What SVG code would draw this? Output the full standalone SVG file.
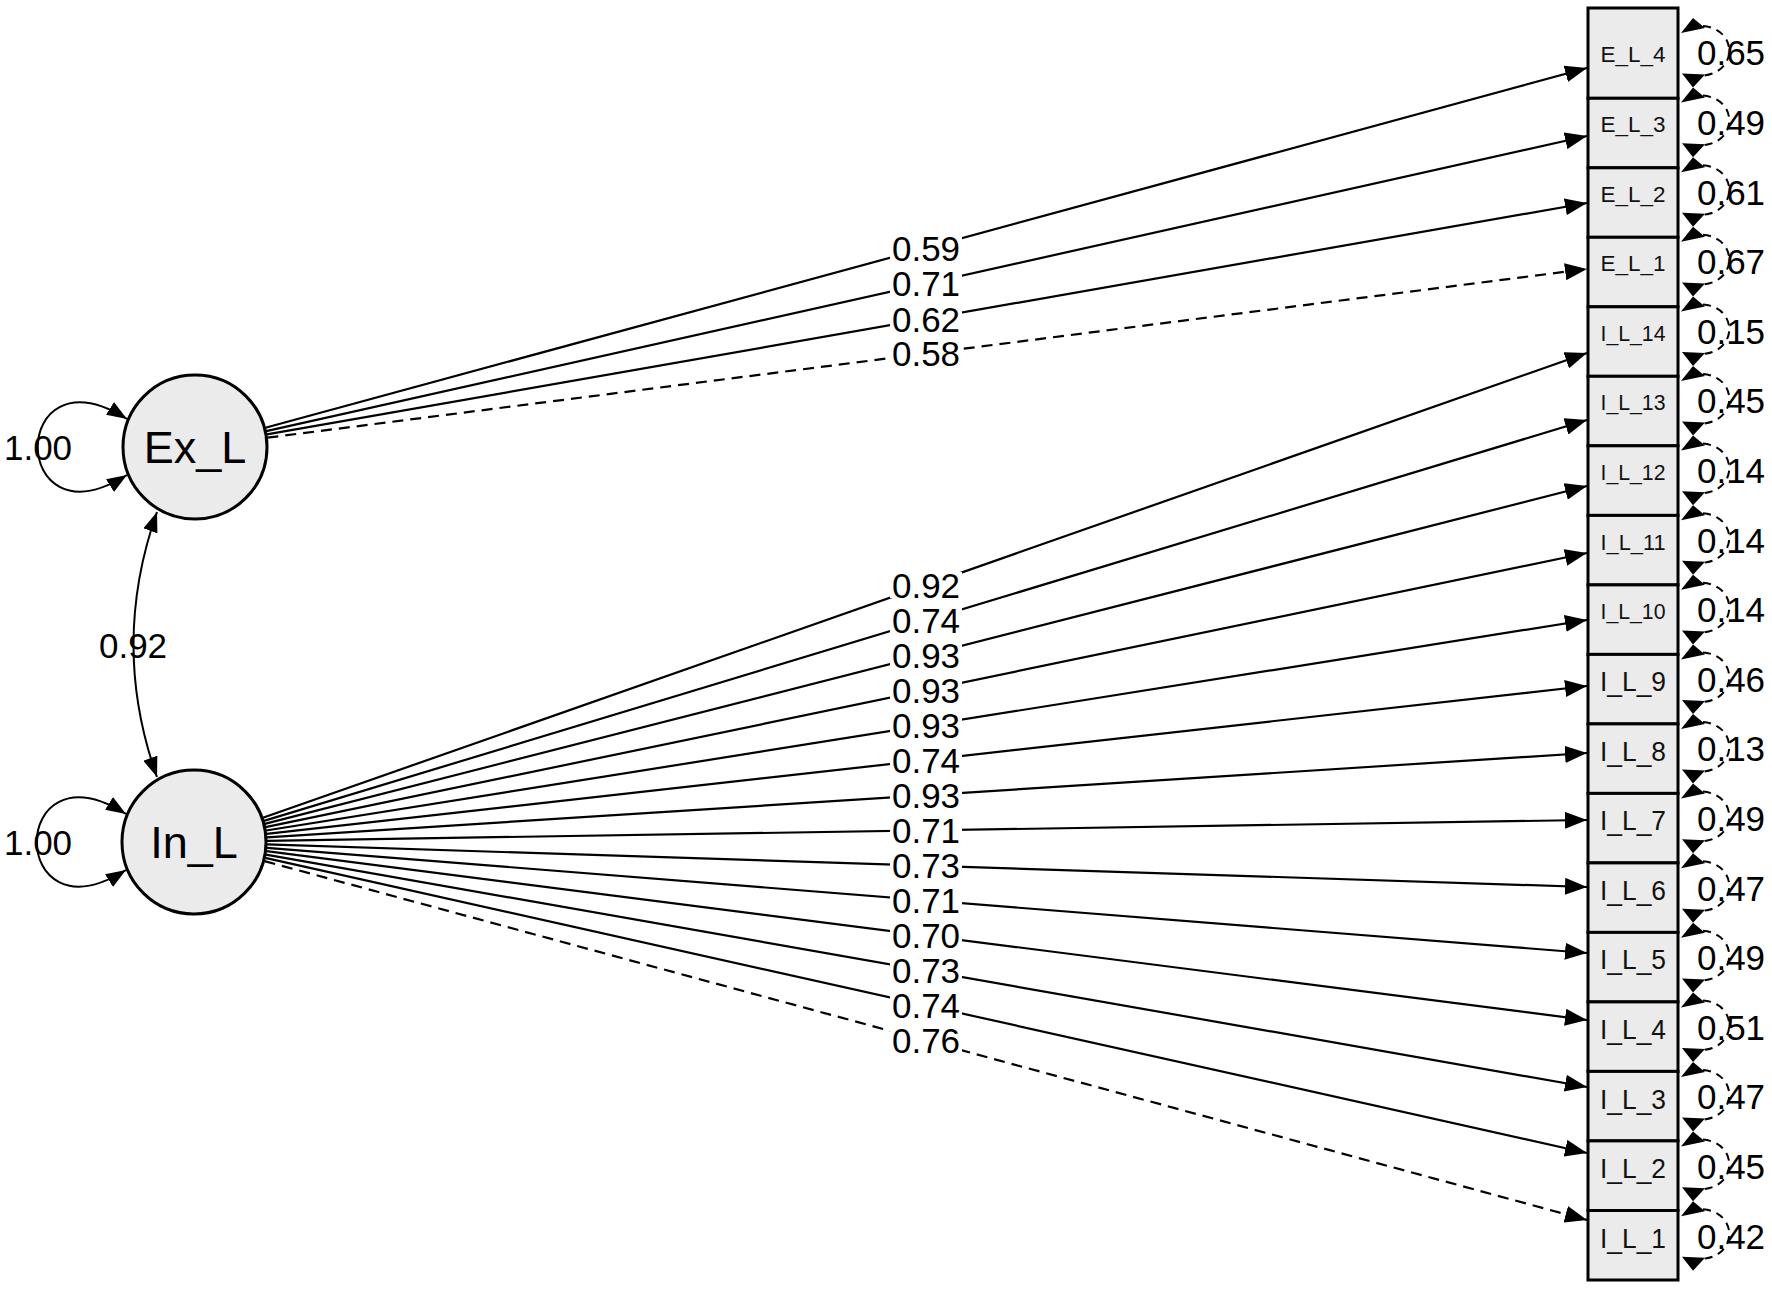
<svg xmlns="http://www.w3.org/2000/svg" xmlns:xlink="http://www.w3.org/1999/xlink" width="1772" height="1290" viewBox="0 0 1772 1290">
<style>
.box{fill:#ebebeb;stroke:#000;stroke-width:3}
.lat{fill:#ebebeb;stroke:#000;stroke-width:3}
.edge{stroke:#000;stroke-width:2.2;fill:none;marker-end:url(#ah)}
.dash{stroke-dasharray:11 7}
.thin{stroke:#000;stroke-width:2;fill:none;marker-start:url(#ah2);marker-end:url(#ah2)}
.rpath{stroke:#000;stroke-width:2;fill:none;stroke-dasharray:8 6}
.lbl{font-family:"Liberation Sans",Arial,sans-serif;font-size:35px;text-anchor:middle;fill:#000}
.bg{fill:#fff}
.bn{font-family:"Liberation Sans",Arial,sans-serif;text-anchor:middle;fill:#111}
.s22{font-size:22px}
.s28{font-size:28px}
.big{font-family:"Liberation Sans",Arial,sans-serif;font-size:45px;text-anchor:middle;fill:#000}
</style>
<defs>
<marker id="ah" viewBox="0 0 22 17" refX="22" refY="8.5" markerWidth="22" markerHeight="17" markerUnits="userSpaceOnUse" orient="auto-start-reverse"><path d="M0,0 L22,8.5 L0,17 Z" fill="#000"/></marker>
<marker id="ah2" viewBox="0 0 20 15" refX="20" refY="7.5" markerWidth="20" markerHeight="15" markerUnits="userSpaceOnUse" orient="auto-start-reverse"><path d="M0,0 L20,7.5 L0,15 Z" fill="#000"/></marker>
<g id="resid">
<path class="rpath" d="M1703,8 C1738,11 1738,54.6 1703,57.6"/>
<polygon points="1693,0 1681,15 1705,10" fill="#000"/>
<polygon points="1693,69.6 1682,55.6 1705,56.6" fill="#000"/>
</g>
</defs>
<rect width="1772" height="1290" fill="#fff"/>

<g id="connectors">
<path class="edge" d="M265.4,427.8 L1587,68"/>
<path class="edge" d="M266.2,431.1 L1587,136"/>
<path class="edge" d="M266.9,434.4 L1587,203"/>
<path class="edge dash" d="M267.4,437.7 L1587,269"/>
<path class="edge" d="M262.9,817.8 L1587,353"/>
<path class="edge" d="M263.9,820.9 L1587,420"/>
<path class="edge" d="M264.7,823.9 L1587,486"/>
<path class="edge" d="M265.5,827.2 L1587,553"/>
<path class="edge" d="M266.1,830.5 L1587,620"/>
<path class="edge" d="M266.5,833.9 L1587,686"/>
<path class="edge" d="M266.9,837.3 L1587,753"/>
<path class="edge" d="M267.0,840.8 L1587,820"/>
<path class="edge" d="M267.0,844.4 L1587,887"/>
<path class="edge" d="M266.8,847.8 L1587,953"/>
<path class="edge" d="M266.4,851.2 L1587,1020"/>
<path class="edge" d="M265.9,854.6 L1587,1087"/>
<path class="edge" d="M265.2,857.9 L1587,1153"/>
<path class="edge dash" d="M264.5,861.1 L1587,1220"/>
<g>
<rect class="bg" x="890" y="235" width="72" height="27"/><text class="lbl" x="926" y="260.6">0.59</text>
<rect class="bg" x="890" y="271" width="72" height="26"/><text class="lbl" x="926" y="296.3">0.71</text>
<rect class="bg" x="890" y="306" width="72" height="26"/><text class="lbl" x="926" y="331.5">0.62</text>
<rect class="bg" x="890" y="341" width="72" height="26"/><text class="lbl" x="926" y="366.1">0.58</text>
<rect class="bg" x="890" y="572" width="72" height="26"/><text class="lbl" x="926" y="597.7">0.92</text>
<rect class="bg" x="890" y="607" width="72" height="26"/><text class="lbl" x="926" y="632.9">0.74</text>
<rect class="bg" x="890" y="642" width="72" height="26"/><text class="lbl" x="926" y="667.6">0.93</text>
<rect class="bg" x="890" y="677" width="72" height="26"/><text class="lbl" x="926" y="702.7">0.93</text>
<rect class="bg" x="890" y="712" width="72" height="26"/><text class="lbl" x="926" y="737.9">0.93</text>
<rect class="bg" x="890" y="747" width="72" height="26"/><text class="lbl" x="926" y="772.6">0.74</text>
<rect class="bg" x="890" y="782" width="72" height="26"/><text class="lbl" x="926" y="807.8">0.93</text>
<rect class="bg" x="890" y="817" width="72" height="26"/><text class="lbl" x="926" y="842.9">0.71</text>
<rect class="bg" x="890" y="853" width="72" height="26"/><text class="lbl" x="926" y="878.1">0.73</text>
<rect class="bg" x="890" y="887" width="72" height="26"/><text class="lbl" x="926" y="912.8">0.71</text>
<rect class="bg" x="890" y="923" width="72" height="26"/><text class="lbl" x="926" y="948.0">0.70</text>
<rect class="bg" x="890" y="958" width="72" height="26"/><text class="lbl" x="926" y="983.2">0.73</text>
<rect class="bg" x="890" y="992" width="72" height="26"/><text class="lbl" x="926" y="1017.8">0.74</text>
<rect class="bg" x="890" y="1028" width="72" height="26"/><text class="lbl" x="926" y="1053.0">0.76</text>
</g>
<text class="lbl" x="38" y="459.5">1.00</text>
<text class="lbl" x="38" y="854.5">1.00</text>
<text class="lbl" x="133" y="657.5">0.92</text>
<path class="thin" d="M127,419 C8,345 8,549 127,475"/>
<path class="thin" d="M126,814 C7,740 7,944 126,870"/>
<path class="thin" d="M157,512 Q110,645 157,777"/>
<text class="lbl" x="1731" y="65.3">0.65</text>
<text class="lbl" x="1731" y="134.9">0.49</text>
<text class="lbl" x="1731" y="204.5">0.61</text>
<text class="lbl" x="1731" y="274.1">0.67</text>
<text class="lbl" x="1731" y="343.7">0.15</text>
<text class="lbl" x="1731" y="413.3">0.45</text>
<text class="lbl" x="1731" y="482.9">0.14</text>
<text class="lbl" x="1731" y="552.5">0.14</text>
<text class="lbl" x="1731" y="622.1">0.14</text>
<text class="lbl" x="1731" y="691.7">0.46</text>
<text class="lbl" x="1731" y="761.3">0.13</text>
<text class="lbl" x="1731" y="830.9">0.49</text>
<text class="lbl" x="1731" y="900.5">0.47</text>
<text class="lbl" x="1731" y="970.1">0.49</text>
<text class="lbl" x="1731" y="1039.7">0.51</text>
<text class="lbl" x="1731" y="1109.3">0.47</text>
<text class="lbl" x="1731" y="1178.9">0.45</text>
<text class="lbl" x="1731" y="1248.5">0.42</text>
<use xlink:href="#resid" y="18"/>
<use xlink:href="#resid" y="87.6"/>
<use xlink:href="#resid" y="157.2"/>
<use xlink:href="#resid" y="226.8"/>
<use xlink:href="#resid" y="296.4"/>
<use xlink:href="#resid" y="366"/>
<use xlink:href="#resid" y="435.6"/>
<use xlink:href="#resid" y="505.2"/>
<use xlink:href="#resid" y="574.8"/>
<use xlink:href="#resid" y="644.4"/>
<use xlink:href="#resid" y="714"/>
<use xlink:href="#resid" y="783.6"/>
<use xlink:href="#resid" y="853.2"/>
<use xlink:href="#resid" y="922.8"/>
<use xlink:href="#resid" y="992.4"/>
<use xlink:href="#resid" y="1062"/>
<use xlink:href="#resid" y="1131.6"/>
<use xlink:href="#resid" y="1201.2"/>
</g>

<g id="Ex_L"><circle class="lat" cx="195" cy="447" r="72"/><text class="big" x="195" y="463">Ex_L</text></g>
<g id="In_L"><circle class="lat" cx="194" cy="842" r="72"/><text class="big" x="194" y="858">In_L</text></g>

<g id="E_L_4"><rect class="box" x="1588" y="8" width="90" height="90.3"/><text class="bn s22" x="1633" y="62.4" textLength="65" lengthAdjust="spacingAndGlyphs">E_L_4</text></g>
<g id="E_L_3"><rect class="box" x="1588" y="98.3" width="90" height="69.5"/><text class="bn s22" x="1633" y="132" textLength="65" lengthAdjust="spacingAndGlyphs">E_L_3</text></g>
<g id="E_L_2"><rect class="box" x="1588" y="167.8" width="90" height="69.5"/><text class="bn s22" x="1633" y="201.6" textLength="65" lengthAdjust="spacingAndGlyphs">E_L_2</text></g>
<g id="E_L_1"><rect class="box" x="1588" y="237.3" width="90" height="69.5"/><text class="bn s22" x="1633" y="271.2" textLength="65" lengthAdjust="spacingAndGlyphs">E_L_1</text></g>
<g id="I_L_14"><rect class="box" x="1588" y="306.8" width="90" height="69.5"/><text class="bn s22" x="1633" y="340.8" textLength="65" lengthAdjust="spacingAndGlyphs">I_L_14</text></g>
<g id="I_L_13"><rect class="box" x="1588" y="376.3" width="90" height="69.5"/><text class="bn s22" x="1633" y="410.4" textLength="65" lengthAdjust="spacingAndGlyphs">I_L_13</text></g>
<g id="I_L_12"><rect class="box" x="1588" y="445.8" width="90" height="69.6"/><text class="bn s22" x="1633" y="480" textLength="65" lengthAdjust="spacingAndGlyphs">I_L_12</text></g>
<g id="I_L_11"><rect class="box" x="1588" y="515.4" width="90" height="69.5"/><text class="bn s22" x="1633" y="549.6" textLength="65" lengthAdjust="spacingAndGlyphs">I_L_11</text></g>
<g id="I_L_10"><rect class="box" x="1588" y="584.9" width="90" height="69.5"/><text class="bn s22" x="1633" y="619.2" textLength="65" lengthAdjust="spacingAndGlyphs">I_L_10</text></g>
<g id="I_L_9"><rect class="box" x="1588" y="654.4" width="90" height="69.5"/><text class="bn s28" x="1633" y="690.9" textLength="66" lengthAdjust="spacingAndGlyphs">I_L_9</text></g>
<g id="I_L_8"><rect class="box" x="1588" y="723.9" width="90" height="69.5"/><text class="bn s28" x="1633" y="760.5" textLength="66" lengthAdjust="spacingAndGlyphs">I_L_8</text></g>
<g id="I_L_7"><rect class="box" x="1588" y="793.4" width="90" height="69.5"/><text class="bn s28" x="1633" y="830.1" textLength="66" lengthAdjust="spacingAndGlyphs">I_L_7</text></g>
<g id="I_L_6"><rect class="box" x="1588" y="862.9" width="90" height="69.5"/><text class="bn s28" x="1633" y="899.7" textLength="66" lengthAdjust="spacingAndGlyphs">I_L_6</text></g>
<g id="I_L_5"><rect class="box" x="1588" y="932.4" width="90" height="69.5"/><text class="bn s28" x="1633" y="969.3" textLength="66" lengthAdjust="spacingAndGlyphs">I_L_5</text></g>
<g id="I_L_4"><rect class="box" x="1588" y="1001.9" width="90" height="69.5"/><text class="bn s28" x="1633" y="1038.9" textLength="66" lengthAdjust="spacingAndGlyphs">I_L_4</text></g>
<g id="I_L_3"><rect class="box" x="1588" y="1071.4" width="90" height="69.5"/><text class="bn s28" x="1633" y="1108.5" textLength="66" lengthAdjust="spacingAndGlyphs">I_L_3</text></g>
<g id="I_L_2"><rect class="box" x="1588" y="1140.9" width="90" height="69.6"/><text class="bn s28" x="1633" y="1178.1" textLength="66" lengthAdjust="spacingAndGlyphs">I_L_2</text></g>
<g id="I_L_1"><rect class="box" x="1588" y="1210.5" width="90" height="69.5"/><text class="bn s28" x="1633" y="1247.7" textLength="66" lengthAdjust="spacingAndGlyphs">I_L_1</text></g>
</svg>
